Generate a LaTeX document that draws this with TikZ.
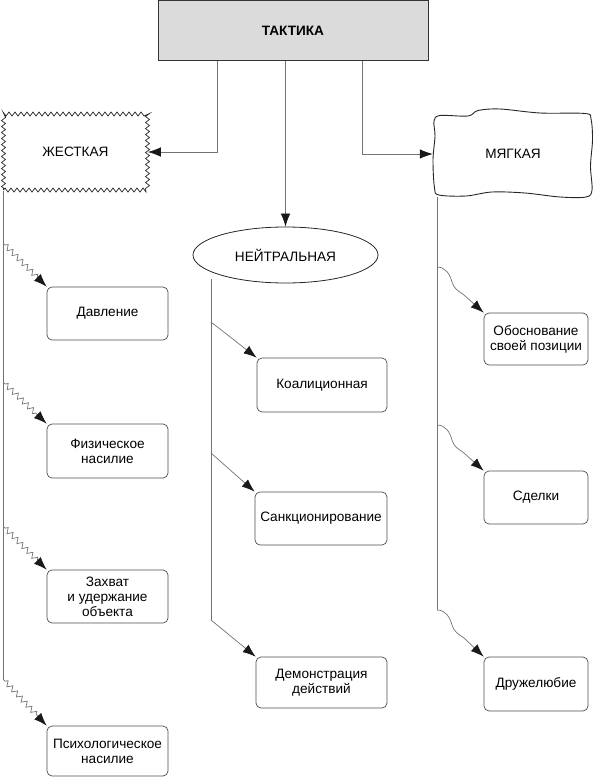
\documentclass[tikz,border=0pt]{standalone}
\usepackage{fontspec}
\setmainfont{Liberation Sans}
\usetikzlibrary{arrows.meta,decorations.pathmorphing,shapes.geometric}
\begin{document}
\begin{tikzpicture}[x=1pt,y=-1pt,
  font=\fontsize{13.6}{15}\selectfont,
  box/.style={draw=black!70, rounded corners=5pt, align=center, line width=0.7pt, inner sep=2pt},
  arr/.style={-{Latex[length=13pt,width=9.5pt,color=black!90]}, draw=black!55, line width=0.7pt},
  trunk/.style={draw=black!55, line width=0.7pt},
  zz/.style={decorate, decoration={zigzag, segment length=7pt, amplitude=2.6pt, pre length=3pt, post length=12pt}},
]
\useasboundingbox (0,0) rectangle (594,779);

% top
\node[draw=black!80, fill=black!14, line width=0.7pt, minimum width=270pt, minimum height=60pt, font=\fontsize{13.6}{15}\selectfont\bfseries] (t) at (293,30.5) {ТАКТИКА};

% level 1
\node[draw=black!85, line width=0.7pt, decorate, decoration={zigzag,segment length=6pt,amplitude=2pt}, minimum width=144pt, minimum height=76pt] (zh) at (75.5,152) {ЖЕСТКАЯ};
\node[ellipse, draw=black!85, line width=0.8pt, minimum width=185pt, minimum height=56pt] (n) at (285.5,255) {НЕЙТРАЛЬНАЯ};
\node[minimum width=160pt, minimum height=84pt] (m) at (513,154) {МЯГКАЯ};
\draw[black!85, line width=0.9pt] plot[smooth cycle, tension=0.55] coordinates {
 (434,121) (440,115.5) (468,116) (478,110.5) (500,109) (540,113) (585,113.5) (591,119)
 (592.5,140) (590.5,166) (592,190) (586,197) (560,197) (525,193) (492,192) (466,196)
 (439,195) (434.5,188) (433,160) (435,136)};

% connectors from top
\draw[arr] ([xshift=-76pt]t.south) |- (zh.east);
\draw[arr] ([xshift=69pt]t.south) |- (m.west);
\draw[arr] (t.south -| n.north) -- (n.north);

% left column
\node[box, minimum width=121pt, minimum height=53pt] (d1) at (107.5,313.5) {Давление};
\node[box, minimum width=121pt, minimum height=54pt] (d2) at (107.5,451) {Физическое\\насилие};
\node[box, minimum width=121pt, minimum height=53pt] (d3) at (107.5,596.5) {Захват\\и удержание\\объекта};
\node[box, minimum width=121pt, minimum height=50pt] (d4) at (107.5,751) {Психологическое\\насилие};

\coordinate (L0) at (3,191);
\coordinate (L1) at (3,243);
\coordinate (L2) at (3,382);
\coordinate (L3) at (3,526);
\coordinate (L4) at (3,679);
\draw[trunk] (L0) -- (L4);
\draw[arr, zz] (L1) -- (d1.north west);
\draw[arr, zz] (L2) -- (d2.north west);
\draw[arr, zz] (L3) -- (d3.north west);
\draw[arr, zz] (L4) -- (d4.north west);

% middle column
\node[box, minimum width=130pt, minimum height=54pt] (c1) at (322,385) {Коалиционная};
\node[box, minimum width=132pt, minimum height=53pt] (c2) at (321,518.5) {Санкционирование};
\node[box, minimum width=131pt, minimum height=51pt] (c3) at (321.5,682.5) {Демонстрация\\действий};

\coordinate (M0) at (211,279);
\coordinate (M1) at (211,322);
\coordinate (M2) at (211,453);
\coordinate (M3) at (211,620);
\draw[trunk] (M0) -- (M3);
\draw[arr] (M1) -- (c1.north west);
\draw[arr] (M2) -- (c2.north west);
\draw[arr] (M3) -- (c3.north west);

% right column
\node[box, minimum width=104pt, minimum height=52pt] (r1) at (536,339) {Обоснование\\своей позиции};
\node[box, minimum width=104pt, minimum height=53pt] (r2) at (536,497.5) {Сделки};
\node[box, minimum width=104pt, minimum height=54pt] (r3) at (536,684) {Дружелюбие};

\coordinate (R0) at (437,197);
\coordinate (R1) at (437,267);
\coordinate (R2) at (437,425);
\coordinate (R3) at (437,610);
\draw[trunk] (R0) -- (R3);
\draw[arr] (R1) to[out=0,in=105] ++(15,15) to[out=-75,in=145] ++(12,13) -- (r1.north west);
\draw[arr] (R2) to[out=0,in=105] ++(15,15) to[out=-75,in=145] ++(12,13) -- (r2.north west);
\draw[arr] (R3) to[out=0,in=105] ++(15,15) to[out=-75,in=145] ++(12,13) -- (r3.north west);
\end{tikzpicture}
\end{document}
